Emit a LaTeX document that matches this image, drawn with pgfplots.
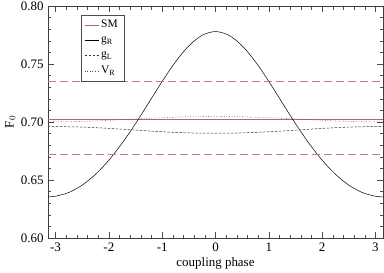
\documentclass[border=0pt]{standalone}
\usepackage{fontspec}
\setmainfont{Liberation Serif}
\usepackage{pgfplots}
\pgfplotsset{compat=1.18}
\definecolor{smred}{RGB}{196,96,96}
\begin{document}
\fontsize{13}{15}\selectfont
\begin{tikzpicture}
\begin{axis}[name=ax,
  scale only axis, width=335bp, height=232bp,
  xmin=-3.14159, xmax=3.14159, ymin=0.60, ymax=0.80,
  xtick={-3,-2,-1,0,1,2,3}, ytick={0.60,0.65,0.70,0.75,0.80},
  minor x tick num=4, minor y tick num=4,
  tick align=inside, major tick length=6bp, minor tick length=3.5bp,
  every tick/.style={black!70, line width=0.5pt},
  axis line style={black!75, line width=0.6pt},
  /pgf/number format/assume math mode=true,
  yticklabel style={/pgf/number format/fixed, /pgf/number format/fixed zerofill, /pgf/number format/precision=2},
  xlabel={coupling phase}, ylabel={F$_0$},
  ylabel style={at={(rel axis cs:0,0.5)}, anchor=south, yshift=28bp},
  xlabel style={yshift=3bp},
  legend style={at={(rel axis cs:0.0985,0.961)}, anchor=north west, draw=black!70, font=\fontsize{11.5}{13}\selectfont, row sep=3pt, inner xsep=3pt, inner ysep=3pt},
  legend cell align=left,
  legend image code/.code={\draw[#1] (0cm,0cm) -- (0.5cm,0cm);},
  clip=true,
]
\addplot[smred, line width=0.8pt] coordinates {(-3.14159,0.7026) (3.14159,0.7026)};
\addlegendentry{SM\,}
\addplot[black, line width=0.5pt, smooth] coordinates {
(-3.14159,0.63551) (-3.0,0.63600) (-2.75,0.63927) (-2.5,0.64559) (-2.25,0.65492) (-2.0,0.66707) (-1.75,0.68182) (-1.5,0.69864) (-1.25,0.71674) (-1.0,0.73499) (-0.75,0.75186) (-0.5,0.76568) (-0.25,0.77479) (0,0.77797)
(0.25,0.77479) (0.5,0.76568) (0.75,0.75186) (1.0,0.73499) (1.25,0.71674) (1.5,0.69864) (1.75,0.68182) (2.0,0.66707) (2.25,0.65492) (2.5,0.64559) (2.75,0.63927) (3.0,0.63600) (3.14159,0.63551)};
\addlegendentry{g$_\mathrm{R}$}
\addplot[black!80, line width=0.5pt, dash pattern=on 2.5pt off 1.5pt, smooth] coordinates {
(-3.14159,0.6962) (-2.5,0.6956) (-2.0,0.6945) (-1.5,0.6930) (-1.0,0.6916) (-0.5,0.6906) (0,0.6903) (0.5,0.6906) (1.0,0.6916) (1.5,0.6930) (2.0,0.6945) (2.5,0.6956) (3.14159,0.6962)};
\addlegendentry{g$_\mathrm{L}$}
\addplot[black!70, line width=0.6pt, dotted, smooth] coordinates {
(-3.14159,0.7002) (-2.5,0.7005) (-2.0,0.7014) (-1.5,0.7026) (-1.0,0.7037) (-0.5,0.7045) (0,0.7048) (0.5,0.7045) (1.0,0.7037) (1.5,0.7026) (2.0,0.7014) (2.5,0.7005) (3.14159,0.7000)};
\addlegendentry{V$_\mathrm{R}$}
\addplot[smred!85, line width=1pt, dash pattern=on 8bp off 4bp, forget plot] coordinates {(-3.14159,0.7350) (3.14159,0.7350)};
\addplot[smred!85, line width=1pt, dash pattern=on 8bp off 4bp, forget plot] coordinates {(-3.14159,0.6716) (3.14159,0.6716)};
\end{axis}
\pgfresetboundingbox
\path ([shift={(-48bp,-35bp)}]ax.south west) rectangle ([shift={(1bp,6bp)}]ax.north east);
\end{tikzpicture}
\end{document}
